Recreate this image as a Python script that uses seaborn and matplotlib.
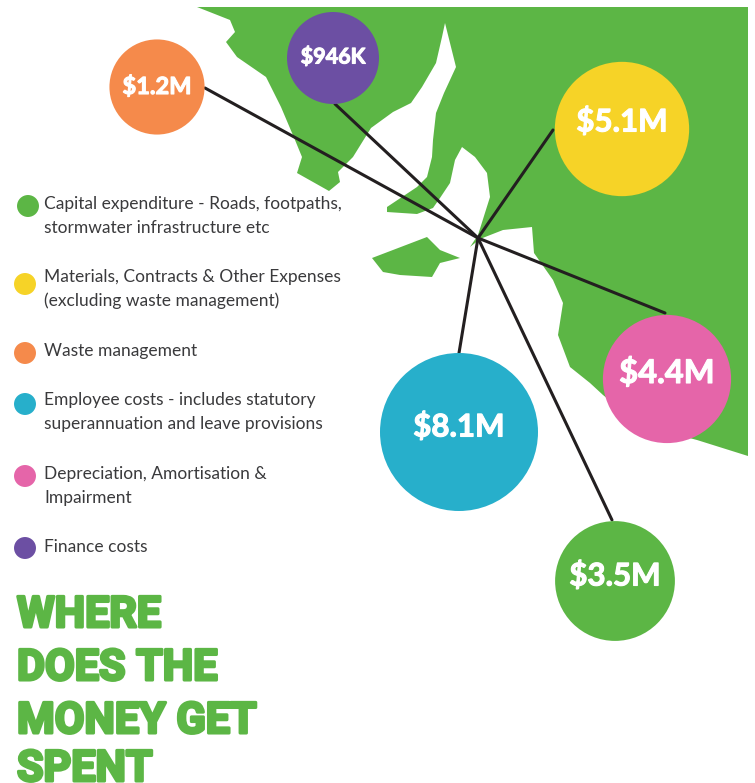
import matplotlib
matplotlib.use('Agg')
import matplotlib.pyplot as plt
import matplotlib.patheffects as pe
import pandas as pd
import seaborn as sns

# chart values
categories = ['Capital expenditure', 'Materials', 'Waste management', 'Employee costs', 'Depreciation', 'Finance costs']
amounts = [3.5, 5.1, 1.2, 8.1, 4.4, 0.946]
amount_labels = ['$3.5M', '$5.1M', '$1.2M', '$8.1M', '$4.4M', '$946K']
legend_labels = ['Capital expenditure - Roads, footpaths,\nstormwater infrastructure etc',
                 'Materials, Contracts & Other Expenses\n(excluding waste management)',
                 'Waste management',
                 'Employee costs - includes statutory\nsuperannuation and leave provisions',
                 'Depreciation, Amortisation &\nImpairment',
                 'Finance costs']
title_lines = ['WHERE', 'DOES THE', 'MONEY GET', 'SPENT']

# layout, in image pixels
colors = ['#5CB645', '#F6D327', '#F58A4B', '#27AFCB', '#E565A9', '#6C4FA3']
bubble_x = [615, 622, 157, 459, 667, 333]
bubble_y = [581, 129, 87, 432, 379, 58]
label_y = [576, 122, 86, 427, 373, 57]
label_size = [22.5, 22.5, 17, 22.5, 23.5, 15.5]
spoke_x = [612, 553, 205, 459, 665, 335]
spoke_y = [520, 130, 88, 353, 313, 104]
hub = (478, 238)
dot_x = [28, 25, 25, 25, 25, 25]
dot_y = [206, 284, 353, 404, 476, 548]
legend_y = [216, 289, 351, 412, 486, 547]
title_y = [627, 680, 733, 781]

mainland = [(197, 7), (230, 20), (235, 32), (226, 42), (237, 57), (266, 77), (281, 107), (295, 140),
            (302, 157), (297, 173), (329, 191), (340, 182), (338, 172), (353, 157), (371, 128), (393, 112),
            (411, 103), (422, 87), (436, 63), (442, 37), (445, 23), (456, 67), (444, 93), (436, 113),
            (433, 140), (432, 157), (427, 177), (417, 187), (387, 207), (387, 212), (417, 214), (433, 208),
            (440, 198), (450, 183), (455, 160), (462, 147), (475, 157), (487, 173), (490, 197), (478, 235),
            (470, 247), (480, 239), (503, 230), (532, 227), (534, 253), (553, 280), (563, 303), (558, 335),
            (570, 367), (590, 383), (603, 395), (640, 425), (697, 440), (748, 456), (748, 7)]
island = [(372, 258), (427, 237), (440, 250), (460, 258), (440, 263), (432, 277), (400, 275), (383, 272)]

df = pd.DataFrame({'category': categories, 'amount': amounts, 'x': bubble_x, 'y': bubble_y})
df_legend = pd.DataFrame({'category': categories, 'x': dot_x, 'y': dot_y})
palette = dict(zip(categories, colors))

sns.set_theme(style='white')
fig = plt.figure(figsize=(7.55, 7.83), dpi=100)
ax = fig.add_axes([0, 0, 1, 1])

# map behind everything
ax.fill(*zip(*mainland), color='#5CB645', lw=0, zorder=1)
ax.fill(*zip(*island), color='#5CB645', lw=0, zorder=1)

for sx, sy in zip(spoke_x, spoke_y):
    ax.plot([hub[0], sx], [hub[1], sy], color='#231F20', lw=2.2, solid_capstyle='round', zorder=2)

sns.scatterplot(data=df, x='x', y='y', hue='category', size='amount', sizes=(4388, 12941),
                palette=palette, linewidth=0, legend=False, ax=ax, zorder=3)
sns.scatterplot(data=df_legend, x='x', y='y', hue='category', s=250,
                palette=palette, linewidth=0, legend=False, ax=ax, zorder=3)

ax.set_xlim(0, 755)
ax.set_ylim(783, 0)
ax.axis('off')

for x, y, label, fs in zip(bubble_x, label_y, amount_labels, label_size):
    ax.text(x, y, label, color='white', fontsize=fs, fontweight='bold', family='Lato',
            ha='center', va='center', zorder=4,
            path_effects=[pe.withStroke(linewidth=0.8, foreground='white')])

for y, label in zip(legend_y, legend_labels):
    ax.text(44, y, label, color='#3A3A3C', fontsize=12.5, family='Lato', ha='left', va='center',
            linespacing=1.58, zorder=4)

# heavy title, thickened with a stroke
for y, line in zip(title_y, title_lines):
    ax.text(17, y, line, color='#5CB645', fontsize=31, fontweight='bold', family='Roboto',
            ha='left', va='baseline', zorder=4,
            path_effects=[pe.withStroke(linewidth=2.2, foreground='#5CB645')])

fig.savefig('out.png', dpi=100, facecolor='white')
